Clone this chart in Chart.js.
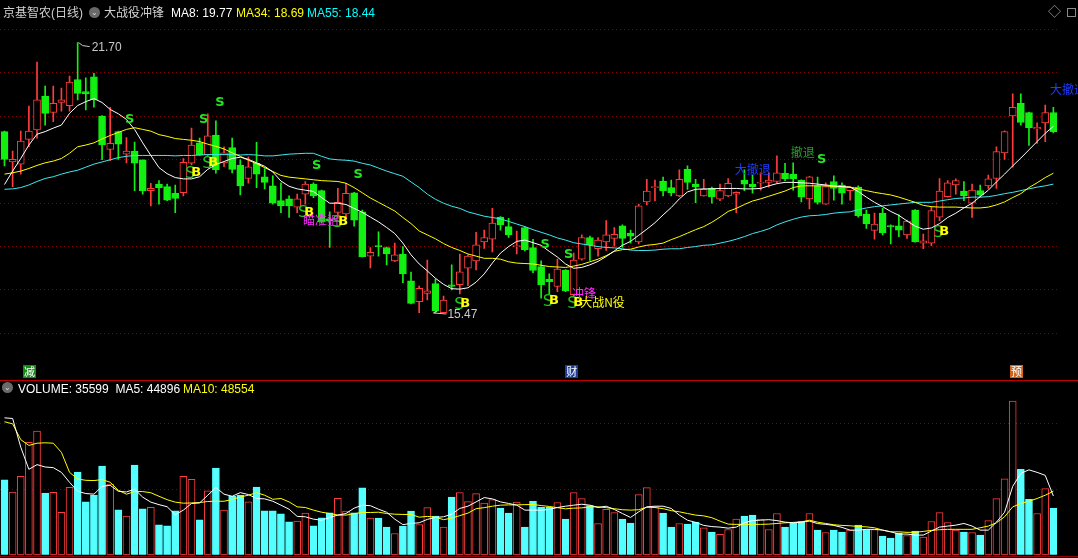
<!DOCTYPE html>
<html>
<head>
<meta charset="utf-8">
<script src="https://cdn.jsdelivr.net/npm/chart.js@4/dist/chart.umd.min.js"></script>
<style>
  html, body { margin: 0; padding: 0; background: #000; }
  body { width: 1078px; height: 558px; overflow: hidden; position: relative;
         font-family: "Liberation Sans", "Noto Sans CJK SC", sans-serif; }
  canvas { position: absolute; left: 0; }
  #price { top: 0; }
  #vol { top: 380px; }
  .lbl { position: absolute; font-size: 12px; line-height: 12px; white-space: nowrap; }
  .icon { position: absolute; width: 11px; height: 11px; border-radius: 50%; background: #6a6a6a;
          color: #ddd; font-size: 8px; line-height: 11px; text-align: center; }
  .rule { position: absolute; left: 0; width: 1078px; height: 1px; background: #c00000; }
</style>
</head>
<body>
<canvas id="price" width="1078" height="380"></canvas>
<canvas id="vol" width="1078" height="178"></canvas>

<div class="lbl" style="left:3px;top:7px;color:#cfcfcf">京基智农(日线)</div>
<div class="icon" style="left:89px;top:7px">&#8964;</div>
<div class="lbl" style="left:104px;top:7px;color:#cfcfcf">大战役冲锋</div>
<div class="lbl" style="left:171px;top:7px;color:#ffffff">MA8: 19.77</div>
<div class="lbl" style="left:236px;top:7px;color:#ffff00">MA34: 18.69</div>
<div class="lbl" style="left:307px;top:7px;color:#00ffff">MA55: 18.44</div>
<div class="lbl" style="left:1048px;top:6px;color:#9a9a9a;font-size:13px">&#9671;</div>
<div style="position:absolute;left:1067px;top:8px;width:7px;height:7px;border:1px solid #8a8a8a"></div>

<div class="rule" style="top:380px"></div>
<div class="rule" style="top:556px;background:#900000"></div>
<div class="icon" style="left:2px;top:382px">&#8964;</div>
<div class="lbl" style="left:18px;top:383px;color:#ffffff">VOLUME: 35599&nbsp; MA5: 44896</div>
<div class="lbl" style="left:183px;top:383px;color:#ffff00">MA10: 48554</div>

<script>
// ---- daily candles ----
const opens = [19.65,18.95,18.90,19.47,19.69,20.47,20.09,20.32,20.25,20.85,
  20.57,20.91,20.01,19.24,19.65,19.13,19.20,19.00,18.29,18.44,
  18.38,18.23,18.24,18.92,19.39,19.11,19.57,18.93,19.28,18.88,
  18.57,18.92,18.61,18.40,18.06,18.10,17.91,18.21,18.44,18.29,
  17.64,17.79,17.75,18.24,17.80,16.78,17.01,16.98,16.67,16.83,
  16.21,15.73,15.92,16.15,15.48,16.12,16.12,16.50,16.67,17.11,
  17.17,17.68,17.46,17.00,17.44,16.98,16.54,16.25,16.08,16.46,
  15.89,16.71,17.21,16.95,17.11,17.19,17.48,17.31,17.11,18.03,
  18.36,18.51,18.36,18.17,18.78,18.44,18.17,18.34,18.09,18.17,
  18.21,18.53,18.44,18.46,18.48,18.50,18.69,18.67,18.53,18.10,
  18.40,17.98,18.50,18.42,18.29,18.37,17.75,17.37,17.77,17.48,
  17.48,17.27,17.84,17.08,17.08,17.68,18.15,18.42,18.28,18.00,
  18.29,18.40,18.57,19.16,20.01,20.30,20.09,19.71,19.85,20.09];
const highs = [19.66,19.20,19.66,20.24,21.25,20.70,20.70,20.65,20.93,21.70,
  20.89,20.99,20.02,20.21,19.66,19.51,19.41,19.00,18.46,18.52,
  18.44,18.42,19.03,19.73,19.50,20.06,19.90,19.30,19.50,19.00,
  19.07,19.40,18.80,18.63,18.47,18.17,18.21,18.50,18.47,18.30,
  17.80,18.34,18.46,18.25,17.84,16.98,17.34,16.99,17.08,17.00,
  16.41,16.09,16.69,16.25,15.86,16.58,16.83,16.81,17.33,17.38,
  17.88,17.69,17.65,17.36,17.46,17.17,16.67,16.37,16.71,16.47,
  16.85,17.27,17.24,17.21,17.60,17.44,17.50,17.38,17.98,18.55,
  18.53,18.60,18.53,18.77,18.86,18.55,18.55,18.37,18.44,18.57,
  18.26,18.77,18.65,18.70,18.70,19.09,18.92,18.93,18.54,18.62,
  18.60,18.47,18.63,18.47,18.38,18.40,17.84,17.77,17.88,17.50,
  17.73,17.61,17.85,17.29,17.92,18.57,18.52,18.56,18.50,18.44,
  18.42,18.65,19.30,19.67,20.52,20.52,20.10,19.85,20.26,20.21];
const lows = [18.86,18.38,18.67,19.30,19.50,19.80,19.88,20.12,20.12,20.38,
  20.15,20.21,19.00,18.98,19.01,18.93,18.29,18.21,17.94,17.98,
  18.06,17.78,18.17,18.88,19.10,19.09,18.69,18.84,18.70,18.19,
  18.46,18.36,18.33,17.98,17.78,17.67,17.78,17.98,18.13,17.54,
  16.98,17.65,17.64,17.47,16.76,16.51,16.78,16.58,16.65,16.17,
  15.68,15.48,15.77,15.47,15.49,16.00,15.91,16.10,16.46,16.96,
  16.88,17.38,17.21,16.83,16.90,16.40,15.81,15.91,15.96,15.96,
  15.87,16.69,16.68,16.78,16.91,17.01,16.98,17.08,17.06,17.96,
  18.05,18.17,18.17,18.15,18.32,18.01,18.16,18.00,18.06,18.15,
  17.78,18.29,18.23,18.30,18.37,18.46,18.52,18.30,18.03,17.87,
  17.98,17.97,18.07,17.98,18.07,17.68,17.42,17.17,17.27,17.06,
  17.23,17.19,17.10,16.95,17.02,17.60,18.14,18.21,18.06,17.67,
  18.14,18.34,18.34,19.01,18.83,19.80,19.33,19.38,19.42,19.62];
const closes = [19.01,19.01,19.43,19.66,20.38,20.07,20.30,20.38,20.79,20.53,
  20.52,20.38,19.34,19.38,19.36,19.20,18.92,18.28,18.34,18.36,
  18.07,18.11,18.94,19.34,19.11,19.55,18.77,19.16,18.78,18.40,
  18.84,18.67,18.48,18.00,17.94,17.94,18.10,18.44,18.17,17.57,
  17.60,18.02,18.23,17.61,16.77,16.87,17.00,16.83,16.81,16.37,
  15.69,16.04,15.98,15.52,15.77,16.08,16.42,16.78,17.04,17.21,
  17.54,17.50,17.27,17.02,16.93,16.45,16.12,16.19,16.48,15.98,
  16.69,17.21,17.04,17.15,17.27,17.28,17.19,17.24,17.94,18.28,
  18.37,18.28,18.24,18.55,18.48,18.38,18.32,18.15,18.29,18.46,
  18.25,18.44,18.38,18.47,18.53,18.70,18.56,18.56,18.14,18.61,
  18.02,18.38,18.34,18.23,18.37,17.71,17.52,17.52,17.32,17.46,
  17.38,17.59,17.11,17.13,17.83,18.28,18.47,18.52,18.17,18.30,
  18.19,18.56,19.19,19.65,20.21,19.86,19.74,19.75,20.09,19.65];

// ---- moving averages as drawn ----
const ma8 = [18.43,18.74,19.03,19.34,19.59,19.65,19.73,19.80,20.07,20.25,
  20.34,20.41,20.32,20.16,20.06,19.93,19.70,19.39,19.10,18.82,
  18.68,18.59,18.56,18.56,18.61,18.78,18.89,18.96,19.03,19.06,
  19.01,18.93,18.85,18.72,18.51,18.39,18.33,18.30,18.27,18.13,
  18.00,18.00,17.97,17.88,17.79,17.68,17.57,17.44,17.30,17.08,
  16.81,16.60,16.44,16.27,16.13,16.03,16.02,16.05,16.18,16.37,
  16.62,16.85,17.00,17.12,17.15,17.09,17.03,16.89,16.76,16.60,
  16.50,16.52,16.58,16.66,16.77,16.90,17.03,17.12,17.26,17.40,
  17.55,17.73,17.90,18.10,18.26,18.32,18.33,18.33,18.34,18.34,
  18.34,18.33,18.33,18.34,18.40,18.45,18.48,18.48,18.47,18.46,
  18.44,18.42,18.40,18.38,18.37,18.27,18.14,18.02,17.92,17.81,
  17.72,17.59,17.47,17.40,17.43,17.53,17.67,17.77,17.89,18.00,
  18.15,18.30,18.49,18.67,18.86,19.04,19.23,19.42,19.61,19.77];
const ma34 = [18.67,18.70,18.74,18.80,18.87,18.93,18.97,19.03,19.15,19.30,
  19.34,19.39,19.48,19.56,19.63,19.70,19.74,19.70,19.66,19.58,
  19.54,19.49,19.47,19.45,19.42,19.36,19.31,19.25,19.16,19.08,
  18.99,18.91,18.82,18.73,18.64,18.60,18.58,18.56,18.54,18.52,
  18.51,18.50,18.46,18.36,18.24,18.12,18.02,17.92,17.82,17.67,
  17.53,17.36,17.27,17.18,17.07,16.98,16.91,16.83,16.78,16.73,
  16.73,16.71,16.65,16.62,16.61,16.60,16.57,16.54,16.53,16.52,
  16.55,16.59,16.65,16.71,16.79,16.89,16.93,16.94,16.99,17.03,
  17.05,17.08,17.16,17.23,17.31,17.39,17.46,17.56,17.68,17.81,
  17.88,17.97,18.05,18.10,18.16,18.22,18.28,18.36,18.40,18.40,
  18.40,18.40,18.38,18.38,18.37,18.33,18.29,18.25,18.22,18.19,
  18.14,18.08,18.02,17.95,17.92,17.91,17.91,17.91,17.90,17.89,
  17.89,17.91,17.96,18.03,18.13,18.22,18.36,18.47,18.59,18.69];
const ma55 = [18.32,18.33,18.36,18.42,18.50,18.57,18.61,18.67,18.72,18.76,
  18.83,18.90,18.95,19.00,19.05,19.08,19.10,19.10,19.10,19.10,
  19.10,19.09,19.10,19.10,19.11,19.12,19.12,19.12,19.12,19.11,
  19.12,19.11,19.09,19.09,19.11,19.13,19.14,19.15,19.15,19.08,
  19.02,19.00,18.99,18.97,18.92,18.88,18.81,18.74,18.68,18.62,
  18.49,18.36,18.21,18.09,18.00,17.93,17.88,17.80,17.75,17.70,
  17.67,17.64,17.58,17.52,17.46,17.39,17.33,17.27,17.20,17.15,
  17.09,17.06,17.03,17.00,16.98,16.97,16.95,16.92,16.91,16.91,
  16.92,16.94,16.95,16.95,16.98,17.00,17.03,17.04,17.08,17.12,
  17.17,17.23,17.30,17.35,17.41,17.50,17.57,17.63,17.68,17.71,
  17.72,17.74,17.77,17.79,17.80,17.85,17.89,17.92,17.94,17.96,
  17.98,18.00,18.02,18.02,18.02,18.05,18.08,18.11,18.12,18.14,
  18.14,18.15,18.18,18.22,18.25,18.29,18.33,18.37,18.40,18.44];

// ---- volume ----
const volumes = [57200,48000,60000,85900,94500,47200,47800,32500,51600,63200,
  40400,45700,67800,54100,34300,29500,68600,35100,36300,22900,
  22100,33500,60000,57700,26700,48800,66300,34100,44700,45700,
  40400,51800,33500,33500,31200,25100,25700,31800,22100,28200,
  32000,43200,33300,32000,51100,28000,28000,21100,16200,21900,
  33300,23100,36000,29500,21100,44000,47500,40600,46700,39400,
  42100,35600,31800,40200,21100,40900,36300,36300,39900,27200,
  47500,42900,37600,23900,34800,32200,27200,24200,45900,51300,
  36600,31800,21100,23900,23400,24900,20600,17300,15500,19300,
  27200,29500,30300,27200,19300,31500,21100,24400,25400,31500,
  18800,17000,18800,17300,18800,22600,19300,19300,14200,12700,
  16500,14700,18100,13500,25400,32200,24600,18800,17300,17000,
  15000,26100,42900,58100,117600,65300,42400,31500,50500,35599];
const volMa5 = [104700,104200,82300,65300,68900,67100,66600,63000,55400,48500,
  46800,46300,52300,53100,48500,48000,50100,44000,40200,38300,
  36700,30600,34100,39200,39600,45500,51400,46300,44700,47500,
  46000,43000,42700,40900,37900,34800,29300,29000,27200,26400,
  28500,30300,31500,35600,37900,37500,34800,32500,27200,23000,
  23900,24400,27000,28500,29000,31000,35400,37100,40400,43700,
  42700,40400,39200,37900,34100,34100,34100,34600,36100,37100,
  37900,38600,37900,36100,37100,34600,31500,28500,32800,36600,
  37100,37100,35400,30300,26400,24700,22400,21500,21100,20300,
  21100,24400,26100,26400,26800,26100,24900,24400,24900,25700,
  23800,23200,22400,20900,18800,18800,19400,19400,18800,17500,
  15800,15800,15000,15000,18100,21100,21900,22600,23900,21900,
  18800,18800,24900,32500,52300,62300,64900,63000,60700,44896];
const volMa10 = [101700,100100,88000,83600,85300,85600,85300,78300,63000,57900,
  56900,56700,57500,55400,49300,46300,48300,48300,47400,44700,
  42100,40200,39400,39600,39900,40700,40900,40900,42200,44200,
  45500,47500,45500,42400,43000,40400,36600,36100,34100,32500,
  31500,30300,30300,31400,32300,32300,32500,31500,31000,30800,
  30800,28700,29300,28700,26800,28000,29900,31800,35200,36000,
  37100,37900,38100,38100,38300,38400,37600,36900,36000,35100,
  35600,35800,36600,36600,36000,35200,34400,34100,34400,36300,
  36100,35200,33700,32800,31500,30300,29700,28300,25700,23400,
  23200,23200,23200,23200,23400,23900,24400,24700,25100,26400,
  24900,23900,22900,22400,22100,21600,21300,20600,18800,17500,
  17500,17100,17100,17800,18600,19100,19400,19400,19400,19400,
  20600,21900,24400,29000,36600,39200,40900,43000,45500,48554];

// ---- grid levels ----
const priceGrid = [15, 16, 17, 18, 19, 20, 21, 22];
const volGrid = [50000, 100000];

// ---- signal marks (candle index, price) ----
const sellAt = [15.4, 26.5, 24.5, 38.4, 43.5, 66.5, 69.4, 100.5];
const sellPrice = [19.92, 20.31, 19.92, 18.86, 18.65, 17.04, 16.81, 19.00];
const buyAt = [23.2, 25.3, 37.1, 41.3, 56.3, 67.2, 70.2, 115.2];
const buyPrice = [18.71, 18.93, 17.79, 17.57, 15.68, 15.75, 15.70, 17.34];
const noteText = ['瞄准狙', '冲锋', '大战N役', '大撤退', '撤退', '大撤退'];
const noteAt = [36.7, 69.8, 70.8, 89.8, 96.7, 128.6];
const notePrice = [17.61, 15.91, 15.72, 18.78, 19.18, 20.61];
const noteColor = ['#ff28ff', '#ff28ff', '#ffff00', '#1f3cff', '#2a9f2a', '#1f3cff'];
const tagText = ['减', '财', '预'];
const tagAt = [3, 69.7, 124.4];
const tagColor = ['#138a13', '#1d3f9a', '#d0641a'];
const highMark = { at: 9, label: '21.70' };
const lowMark = { at: 53, label: '15.47' };

const RED = '#ff3c3c', GREEN = '#12f012', CYAN = '#54ffff';
const days = closes.map((_, i) => i);
const up = closes.map((c, i) => c >= opens[i]);

const signals = {
  id: 'signals',
  afterDatasetsDraw(chart) {
    const { ctx, chartArea, scales: { x, y } } = chart;
    ctx.save();
    ctx.textBaseline = 'middle';
    ctx.textAlign = 'center';
    ctx.font = 'bold 13px "DejaVu Sans"';
    ctx.fillStyle = '#22e622';
    sellAt.forEach((v, k) => ctx.fillText('S', x.getPixelForValue(v), y.getPixelForValue(sellPrice[k])));
    buyAt.forEach((v, k) => {
      const px = x.getPixelForValue(v), py = y.getPixelForValue(buyPrice[k]);
      ctx.font = '16px "DejaVu Sans"';
      ctx.fillStyle = '#1cc81c';
      ctx.fillText('S', px - 3, py + 1);
      ctx.font = 'bold 13px "DejaVu Sans"';
      ctx.fillStyle = '#ffff00';
      ctx.fillText('B', px + 3, py);
    });
    ctx.textAlign = 'left';
    ctx.font = '12px "Noto Sans CJK SC"';
    noteText.forEach((t, k) => {
      ctx.fillStyle = noteColor[k];
      ctx.fillText(t, x.getPixelForValue(noteAt[k]), y.getPixelForValue(notePrice[k]));
    });

    // highest / lowest price labels
    ctx.strokeStyle = '#c8c8c8';
    ctx.fillStyle = '#c8c8c8';
    ctx.lineWidth = 1;
    ctx.font = '12px "Liberation Sans"';
    const hx = x.getPixelForValue(highMark.at), hy = y.getPixelForValue(highs[highMark.at]);
    ctx.beginPath();
    ctx.moveTo(hx + 1, hy); ctx.lineTo(hx + 5, hy + 3); ctx.lineTo(hx + 12, hy + 4);
    ctx.stroke();
    ctx.fillText(highMark.label, hx + 14, hy + 5);
    const lx = x.getPixelForValue(lowMark.at), ly = y.getPixelForValue(lows[lowMark.at]);
    ctx.beginPath();
    ctx.moveTo(lx - 2, ly); ctx.lineTo(lx + 11, ly + 1);
    ctx.moveTo(lx - 2, ly); ctx.lineTo(lx + 2, ly - 2);
    ctx.stroke();
    ctx.fillText(lowMark.label, lx + 12, ly + 2);

    // event tags along the bottom
    ctx.textAlign = 'center';
    ctx.font = '11px "Noto Sans CJK SC"';
    tagText.forEach((t, k) => {
      const px = x.getPixelForValue(tagAt[k]);
      ctx.fillStyle = tagColor[k];
      ctx.fillRect(Math.round(px - 6), chartArea.bottom - 15, 13, 13);
      ctx.fillStyle = '#ffffff';
      ctx.fillText(t, px + 0.5, chartArea.bottom - 8.5);
    });
    ctx.restore();
  }
};

const flatX = { type: 'category', display: false, offset: true };

new Chart(document.getElementById('price'), {
  type: 'bar',
  data: {
    labels: days,
    datasets: [
      { type: 'line', data: ma8, borderColor: '#ffffff', borderWidth: 1, pointRadius: 0, order: 0 },
      { type: 'line', data: ma34, borderColor: '#ffff00', borderWidth: 1, pointRadius: 0, order: 0 },
      { type: 'line', data: ma55, borderColor: '#3ee8f0', borderWidth: 1, pointRadius: 0, order: 0 },
      {
        data: opens.map((o, i) => [o, closes[i]]),
        backgroundColor: up.map(u => u ? '#000000' : GREEN),
        borderColor: up.map(u => u ? RED : GREEN),
        borderWidth: 1, borderSkipped: false, barThickness: 7, minBarLength: 1,
        grouped: false, order: 1
      },
      {
        data: lows.map((l, i) => [l, highs[i]]),
        backgroundColor: up.map(u => u ? RED : GREEN),
        barThickness: 1, grouped: false, order: 2
      }
    ]
  },
  options: {
    responsive: false,
    animation: false,
    devicePixelRatio: 1,
    layout: { padding: { left: 0.43, right: 20.57, top: 0, bottom: 0 } },
    plugins: { legend: { display: false }, tooltip: { enabled: false } },
    scales: {
      x: flatX,
      y: {
        min: 13.926, max: 22.682,
        afterBuildTicks: axis => { axis.ticks = priceGrid.map(v => ({ value: v })); },
        ticks: { display: false },
        grid: { color: '#8a0000', drawTicks: false },
        border: { display: false, dash: [1, 3] }
      }
    }
  },
  plugins: [signals]
});

new Chart(document.getElementById('vol'), {
  type: 'bar',
  data: {
    labels: days,
    datasets: [
      { type: 'line', data: volMa5, borderColor: '#ffffff', borderWidth: 1, pointRadius: 0, order: 0 },
      { type: 'line', data: volMa10, borderColor: '#ffff00', borderWidth: 1, pointRadius: 0, order: 0 },
      {
        data: volumes,
        backgroundColor: up.map(u => u ? '#000000' : CYAN),
        borderColor: up.map(u => u ? RED : CYAN),
        borderWidth: 1, borderSkipped: false, barThickness: 7, order: 1
      }
    ]
  },
  options: {
    responsive: false,
    animation: false,
    devicePixelRatio: 1,
    layout: { padding: { left: 0.43, right: 20.57, top: 0, bottom: 3.3 } },
    plugins: { legend: { display: false }, tooltip: { enabled: false } },
    scales: {
      x: flatX,
      y: {
        min: 0, max: 133650,
        afterBuildTicks: axis => { axis.ticks = volGrid.map(v => ({ value: v })); },
        ticks: { display: false },
        grid: { color: '#8a0000', drawTicks: false },
        border: { display: false, dash: [1, 3] }
      }
    }
  }
});
</script>
</body>
</html>
